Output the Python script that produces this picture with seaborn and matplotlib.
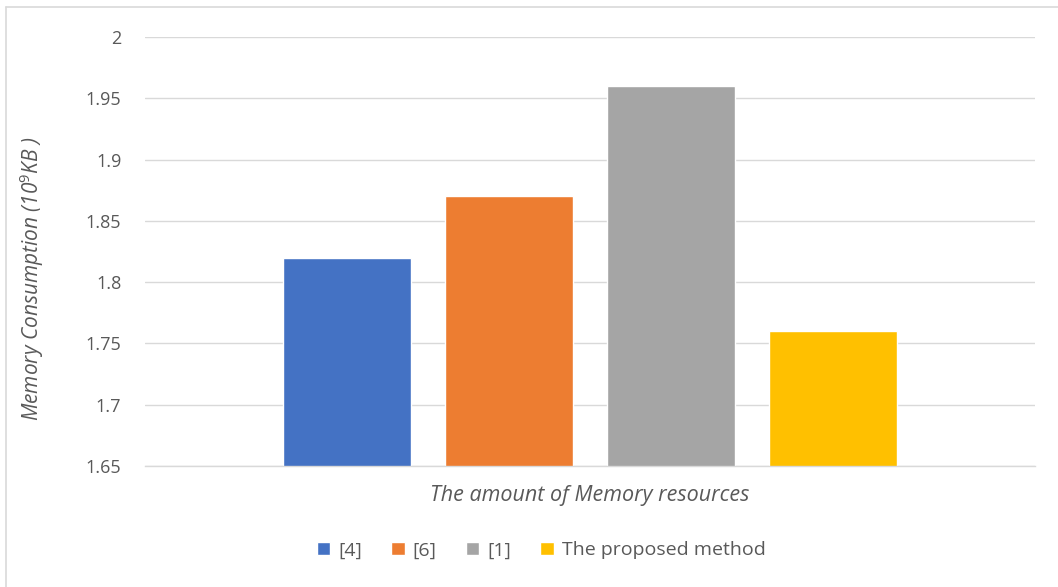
import pandas as pd
import numpy as np
import matplotlib.pyplot as plt
import seaborn as sns
from matplotlib.lines import Line2D

# Chart data
methods = ["[4]", "[6]", "[1]", "The proposed method"]
memory = [1.82, 1.87, 1.96, 1.76]
category = "The amount of Memory resources"
colors = ["#4472C4", "#ED7D31", "#A5A5A5", "#FFC000"]
yticks = [1.65, 1.7, 1.75, 1.8, 1.85, 1.9, 1.95, 2]

df = pd.DataFrame({"category": [category] * len(methods), "method": methods, "memory": memory})

sns.set_style("white")
plt.rcParams["font.family"] = ["Open Sans", "DejaVu Sans"]
plt.rcParams["mathtext.fontset"] = "custom"
plt.rcParams["mathtext.rm"] = "Open Sans"
plt.rcParams["mathtext.it"] = "Open Sans:italic"

text_color = "#595959"
grid_color = "#D9D9D9"

fig = plt.figure(figsize=(10.58, 5.87), dpi=100)
ax = fig.add_axes([145 / 1058, 1 - 466 / 587, 890 / 1058, 429 / 587])

sns.barplot(data=df, x="category", y="memory", hue="method", palette=colors,
            width=0.727, gap=0.208, saturation=1, ax=ax, legend=True)

ax.set_xlim(-0.5, 0.5)
ax.set_ylim(1.65, 2.0)
ax.set_yticks(yticks)
ax.set_yticklabels([f"{t:g}" for t in yticks], fontsize=13, color=text_color)
ax.set_xticks([])
ax.yaxis.grid(True, color=grid_color, linewidth=1)
ax.set_axisbelow(True)
ax.tick_params(axis="y", length=0, pad=17)
for s in ["top", "right", "left"]:
    ax.spines[s].set_visible(False)
ax.spines["bottom"].set_color(grid_color)
ax.spines["bottom"].set_linewidth(1)

ax.set_ylabel(r"Memory Consumption (10$^{\mathit{9}}$KB )", fontsize=15,
              style="italic", color=text_color)
ax.yaxis.set_label_coords(-0.111, 0.436)
ax.set_xlabel(category, fontsize=15.5, style="italic", color=text_color, labelpad=14)

ax.legend(loc="upper center", bbox_to_anchor=(0.445, -0.135), ncol=4, frameon=False,
          fontsize=14, labelcolor=text_color, handlelength=0.7, handleheight=0.7,
          handletextpad=0.4, columnspacing=1.5)

# outer chart border (top and left visible)
fig.add_artist(Line2D([6 / 1058, 6 / 1058], [0, 1 - 7 / 587], color=grid_color, linewidth=1.2))
fig.add_artist(Line2D([6 / 1058, 1], [1 - 7 / 587, 1 - 7 / 587], color=grid_color, linewidth=1.2))

fig.savefig("out.png", dpi=100)
